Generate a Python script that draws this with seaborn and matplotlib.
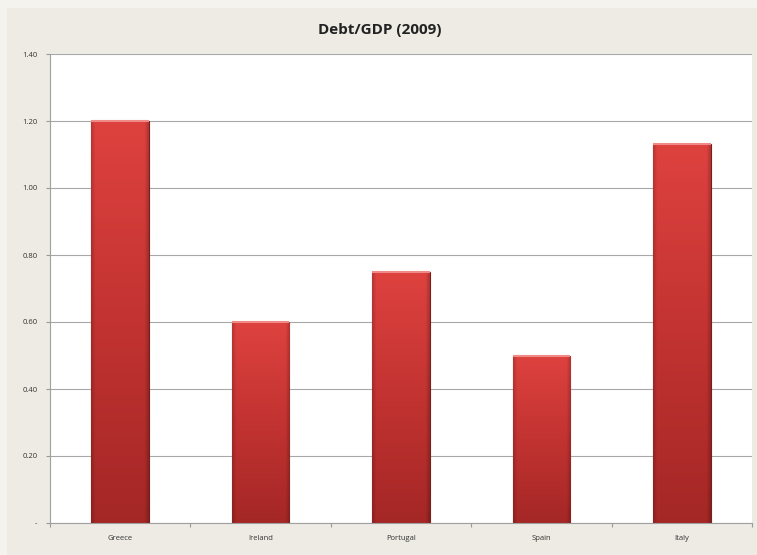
import numpy as np
import pandas as pd
import matplotlib
matplotlib.use("Agg")
import matplotlib.pyplot as plt
import seaborn as sns
from matplotlib.colors import LinearSegmentedColormap
from matplotlib.patches import Rectangle

countries = ["Greece", "Ireland", "Portugal", "Spain", "Italy"]
debt_to_gdp = [1.20, 0.60, 0.75, 0.50, 1.13]
y_ticks = [0.0, 0.2, 0.4, 0.6, 0.8, 1.0, 1.2, 1.4]
y_tick_labels = ["-", "0.20", "0.40", "0.60", "0.80", "1.00", "1.20", "1.40"]

df = pd.DataFrame({"country": countries, "ratio": debt_to_gdp})

sns.set_theme(style="white")
plt.rcParams["font.family"] = ["Open Sans", "DejaVu Sans"]

fig = plt.figure(figsize=(7.57, 5.55), dpi=100)
fig.patch.set_facecolor("#F4F3EE")
# panel background
fig.patches.append(Rectangle((7 / 757, 0), 1, 1 - 8 / 555, transform=fig.transFigure,
                             facecolor="#EDEBE3", edgecolor="none", zorder=-10))

ax = fig.add_axes([50 / 757, 32 / 555, 702 / 757, 469 / 555])
ax.set_facecolor("white")

sns.barplot(data=df, x="country", y="ratio", color="#C83430", width=0.41,
            edgecolor="#7A1E1C", linewidth=0.8, saturation=1, ax=ax, zorder=2)

# vertical red gradient inside each bar
cmap = LinearSegmentedColormap.from_list("redgrad", ["#A42726", "#C23331", "#DE423F"])
grad = np.linspace(0, 1, 256).reshape(-1, 1)
hshade = np.concatenate([np.linspace(0.82, 1.0, 20), np.ones(216), np.linspace(1.0, 0.78, 20)])
for bar in list(ax.patches):
    x0, y0 = bar.get_x(), bar.get_y()
    w, h = bar.get_width(), bar.get_height()
    rgba = cmap(np.tile(grad, (1, 256)))
    rgba[..., :3] *= hshade[None, :, None]
    im = ax.imshow(rgba, extent=[x0, x0 + w, y0, y0 + h], origin="lower",
                   aspect="auto", zorder=2.5, interpolation="bilinear")
    im.set_clip_path(bar)
    ax.plot([x0, x0 + w], [y0 + h, y0 + h], color="#F08A86", lw=1.5, zorder=3,
            solid_capstyle="butt")

ax.set_xlim(-0.5, len(countries) - 0.5)
ax.set_ylim(0, 1.4)
ax.set_yticks(y_ticks)
ax.set_yticklabels(y_tick_labels, fontsize=5.5, color="#333333")
ax.set_xticks(range(len(countries)))
ax.set_xticklabels(countries)
ax.set_xticks(np.arange(-0.5, len(countries), 1.0), minor=True)
ax.tick_params(axis="x", which="major", bottom=True, labelsize=5.5, colors="#333333",
               length=0, pad=9)
ax.tick_params(axis="x", which="minor", bottom=True, length=3, width=0.8,
               color="#999999", direction="out")
ax.tick_params(axis="y", left=True, length=3, width=0.8, color="#999999",
               direction="out", pad=6)
ax.grid(axis="y", color="#A8A8A8", linewidth=0.8, zorder=1)
ax.set_axisbelow(True)
ax.set_xlabel("")
ax.set_ylabel("")
for side in ["top", "right"]:
    ax.spines[side].set_visible(False)
for side in ["left", "bottom"]:
    ax.spines[side].set_color("#A0A0A0")
    ax.spines[side].set_linewidth(0.8)

fig.text(380 / 757, 1 - 30 / 555, "Debt/GDP (2009)", ha="center", va="center",
         fontsize=11, fontweight="bold", color="#222222")

fig.savefig("out.png", dpi=100, facecolor=fig.get_facecolor())
